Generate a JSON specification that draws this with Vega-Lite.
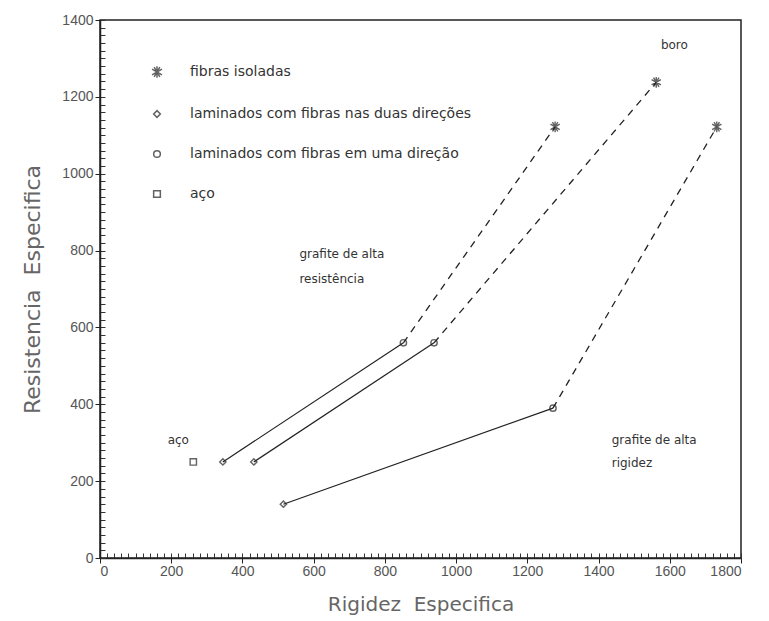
{
  "$schema": "https://vega.github.io/schema/vega-lite/v6.json",
  "width": 641,
  "height": 538,
  "autosize": {"type": "none"},
  "padding": {"left": 100, "top": 20, "right": 28, "bottom": 63},
  "background": "white",
  "config": {
    "view": {"stroke": "#222", "strokeWidth": 1.5},
    "font": "Liberation Sans"
  },
  "data": {
    "values": [
      {"material": "grafite de alta resistência", "tipo": "laminados com fibras nas duas direções", "ordem": 1, "x": 345, "y": 250},
      {"material": "grafite de alta resistência", "tipo": "laminados com fibras em uma direção", "ordem": 2, "x": 852, "y": 560},
      {"material": "grafite de alta resistência", "tipo": "fibras isoladas", "ordem": 3, "x": 1278, "y": 1122},
      {"material": "boro", "tipo": "laminados com fibras nas duas direções", "ordem": 1, "x": 432, "y": 250},
      {"material": "boro", "tipo": "laminados com fibras em uma direção", "ordem": 2, "x": 938, "y": 560},
      {"material": "boro", "tipo": "fibras isoladas", "ordem": 3, "x": 1562, "y": 1238},
      {"material": "grafite de alta rigidez", "tipo": "laminados com fibras nas duas direções", "ordem": 1, "x": 515, "y": 140},
      {"material": "grafite de alta rigidez", "tipo": "laminados com fibras em uma direção", "ordem": 2, "x": 1272, "y": 390},
      {"material": "grafite de alta rigidez", "tipo": "fibras isoladas", "ordem": 3, "x": 1732, "y": 1122},
      {"material": "aço", "tipo": "aço", "ordem": 1, "x": 262, "y": 250}
    ]
  },
  "layer": [
    {
      "transform": [{"filter": "datum.ordem <= 2 && datum.tipo != 'aço'"}],
      "mark": {"type": "line", "color": "#222", "strokeWidth": 1.2},
      "encoding": {
        "x": {"field": "x", "type": "quantitative", "scale": {"domain": [0, 1800], "nice": false},
          "axis": {"orient": "bottom", "values": [0,20,40,60,80,100,120,140,160,180,200,220,240,260,280,300,320,340,360,380,400,420,440,460,480,500,520,540,560,580,600,620,640,660,680,700,720,740,760,780,800,820,840,860,880,900,920,940,960,980,1000,1020,1040,1060,1080,1100,1120,1140,1160,1180,1200,1220,1240,1260,1280,1300,1320,1340,1360,1380,1400,1420,1440,1460,1480,1500,1520,1540,1560,1580,1600,1620,1640,1660,1680,1700,1720,1740,1760,1780,1800], "labels": false, "domain": false, "grid": false, "tickSize": -5, "tickColor": "#333", "title": null}},
        "y": {"field": "y", "type": "quantitative", "scale": {"domain": [0, 1400], "nice": false},
          "axis": {"orient": "left", "values": [0,20,40,60,80,100,120,140,160,180,200,220,240,260,280,300,320,340,360,380,400,420,440,460,480,500,520,540,560,580,600,620,640,660,680,700,720,740,760,780,800,820,840,860,880,900,920,940,960,980,1000,1020,1040,1060,1080,1100,1120,1140,1160,1180,1200,1220,1240,1260,1280,1300,1320,1340,1360,1380,1400], "labels": false, "domain": false, "grid": false, "tickSize": -5, "tickColor": "#333", "title": null}},
        "detail": {"field": "material"},
        "order": {"field": "ordem"}
      }
    },
    {
      "transform": [{"filter": "datum.ordem >= 2 && datum.tipo != 'aço'"}],
      "mark": {"type": "line", "color": "#222", "strokeWidth": 1.3, "strokeDash": [7, 6]},
      "encoding": {
        "x": {"field": "x", "type": "quantitative", "axis": null},
        "y": {"field": "y", "type": "quantitative", "axis": null},
        "detail": {"field": "material"},
        "order": {"field": "ordem"}
      }
    },
    {
      "mark": {"type": "point", "filled": false, "strokeWidth": 1.4, "size": 40},
      "encoding": {
        "x": {"field": "x", "type": "quantitative",
          "axis": {"orient": "bottom", "values": [0,200,400,600,800,1000,1200,1400,1600,1800], "format": "d", "grid": false, "tickSize": 5, "tickColor": "#222", "domainColor": "#222", "domainWidth": 1.5, "labelFontSize": 14, "labelColor": "#555", "labelPadding": 1, "title": "Rigidez\u00a0\u00a0Especifica", "titleFont": "DejaVu Sans", "titleFontSize": 20, "titleFontWeight": "normal", "titleColor": "#666", "titlePadding": 16}},
        "y": {"field": "y", "type": "quantitative",
          "axis": {"orient": "left", "values": [0,200,400,600,800,1000,1200,1400], "format": "d", "grid": false, "tickSize": 5, "tickColor": "#222", "domainColor": "#222", "domainWidth": 1.5, "labelFontSize": 14, "labelColor": "#555", "labelPadding": 2, "title": "Resistencia\u00a0\u00a0Especifica", "titleFont": "DejaVu Sans", "titleFontSize": 22, "titleFontWeight": "normal", "titleColor": "#666", "titlePadding": 17}},
        "shape": {"field": "tipo", "type": "nominal",
          "scale": {"domain": ["fibras isoladas", "laminados com fibras nas duas direções", "laminados com fibras em uma direção", "aço"],
                    "range": ["M0,-1.7L0,1.7M-1.47,-0.85L1.47,0.85M-1.47,0.85L1.47,-0.85M-0.85,-1.47L0.85,1.47M0.85,-1.47L-0.85,1.47", "diamond", "circle", "square"]},
          "legend": {"orient": "none", "legendX": 50, "legendY": 45, "title": null, "padding": 0, "labelFont": "DejaVu Sans", "labelFontSize": 14, "labelColor": "#333", "labelLimit": 450, "labelOffset": 26, "rowPadding": 26, "symbolSize": 45, "symbolStrokeColor": "#222", "symbolStrokeWidth": 1.5, "symbolFillColor": "transparent"}},
        "color": {"value": "#222"}
      }
    },
    {
      "data": {
        "values": [
          {"label": "boro", "x": 1575, "y": 1335},
          {"label": "grafite de alta", "x": 560, "y": 790},
          {"label": "resistência", "x": 560, "y": 726},
          {"label": "grafite de alta", "x": 1437, "y": 307},
          {"label": "rigidez", "x": 1437, "y": 246},
          {"label": "aço", "x": 190, "y": 306}
        ]
      },
      "mark": {"type": "text", "align": "left", "baseline": "middle", "font": "DejaVu Sans", "fontSize": 12, "color": "#333"},
      "encoding": {
        "x": {"field": "x", "type": "quantitative", "axis": null},
        "y": {"field": "y", "type": "quantitative", "axis": null},
        "text": {"field": "label"}
      }
    }
  ],
  "resolve": {"axis": {"x": "independent", "y": "independent"}}
}
